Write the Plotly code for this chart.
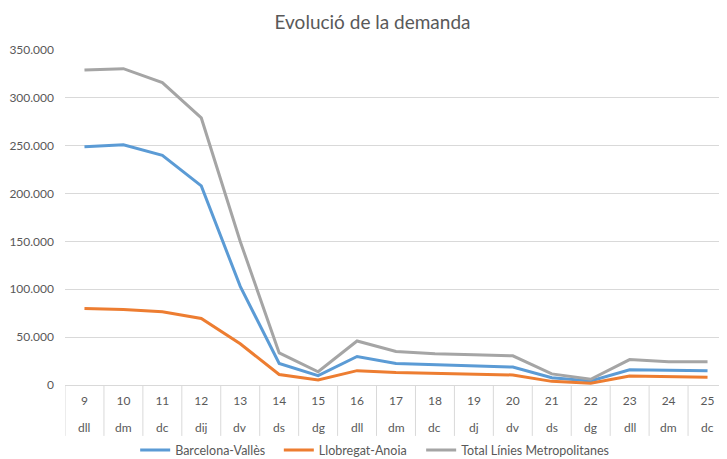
import plotly.graph_objects as go

days = ["9", "10", "11", "12", "13", "14", "15", "16", "17", "18", "19", "20", "21", "22", "23", "24", "25"]
weekdays = ["dll", "dm", "dc", "dij", "dv", "ds", "dg", "dll", "dm", "dc", "dj", "dv", "ds", "dg", "dll", "dm", "dc"]

barcelona_valles = [249000, 251000, 240000, 208000, 103000, 22500, 9800, 29800, 22400, 21000, 20000, 18700, 7600, 4200, 16000, 15200, 15000]
llobregat_anoia = [80000, 79000, 76500, 69500, 43000, 11000, 5300, 15000, 13000, 12000, 11800, 10500, 3800, 1800, 9500, 9200, 8200]
total_metropolitanes = [329000, 330500, 316000, 279000, 150000, 33500, 13800, 46000, 35000, 32600, 31500, 30500, 11600, 6000, 26600, 24200, 24200]

series_names = ["Barcelona-Vallès", "Llobregat-Anoia", "Total Línies Metropolitanes"]
series_values = [barcelona_valles, llobregat_anoia, total_metropolitanes]
series_colors = ["#5B9BD5", "#ED7D31", "#A5A5A5"]

GRAY_TEXT = "#595959"
GRID = "#d9d9d9"
FONT = "Lato, Open Sans, sans-serif"

# one legend per series so each entry can sit where the reference places it
legend_ids = ["legend", "legend2", "legend3"]
legend_x = [0.106, 0.323, 0.538]

fig = go.Figure()
for name, vals, color, lg in zip(series_names, series_values, series_colors, legend_ids):
    fig.add_trace(go.Scatter(
        x=days, y=vals, name=name, mode="lines",
        line=dict(color=color, width=3), legend=lg,
    ))

# second row of category labels (weekday) under the day numbers
for i, w in enumerate(weekdays):
    fig.add_annotation(
        x=i, xref="x", y=0, yref="paper", yanchor="middle",
        yshift=-42, text=w, showarrow=False,
        font=dict(family=FONT, size=12, color=GRAY_TEXT),
    )

# vertical dividers between categories, spanning both label rows
n = len(days)
for i in range(n + 1):
    fig.add_shape(
        type="line", xref="x", yref="paper",
        x0=i - 0.5, x1=i - 0.5, y0=0, y1=-0.152,
        line=dict(color=GRID, width=1),
    )

legend_style = dict(orientation="h", xanchor="left",
                    yref="container", y=0.019, yanchor="middle",
                    font=dict(size=12.5, color=GRAY_TEXT), itemwidth=30,
                    bgcolor="rgba(0,0,0,0)")

# the page body adds an 8px offset, so the figure is sized to end at the window edge
fig.update_layout(
    width=719, height=451,
    margin=dict(l=57, r=0, t=42, b=74),
    paper_bgcolor="white", plot_bgcolor="white",
    separators=",.",
    font=dict(family=FONT, color=GRAY_TEXT, size=12),
    title=dict(text="Evolució de la demanda", x=0.507, xanchor="center",
               y=0.969, yanchor="middle", font=dict(size=19, color=GRAY_TEXT)),
    showlegend=True,
    legend=dict(x=legend_x[0], **legend_style),
    legend2=dict(x=legend_x[1], **legend_style),
    legend3=dict(x=legend_x[2], **legend_style),
)
fig.update_xaxes(
    type="category", range=[-0.5, n - 0.5],
    showline=True, linecolor=GRID, linewidth=1,
    tickfont=dict(size=12, color=GRAY_TEXT),
    showgrid=False, ticks="", ticklabelstandoff=5,
)
fig.update_yaxes(
    range=[0, 350000], dtick=50000, tickformat=",.0f",
    showgrid=True, gridcolor=GRID, gridwidth=1,
    zeroline=False, showline=False,
    tickfont=dict(size=12, color=GRAY_TEXT),
    ticklabelstandoff=10,
)

fig.write_html("out.html")
